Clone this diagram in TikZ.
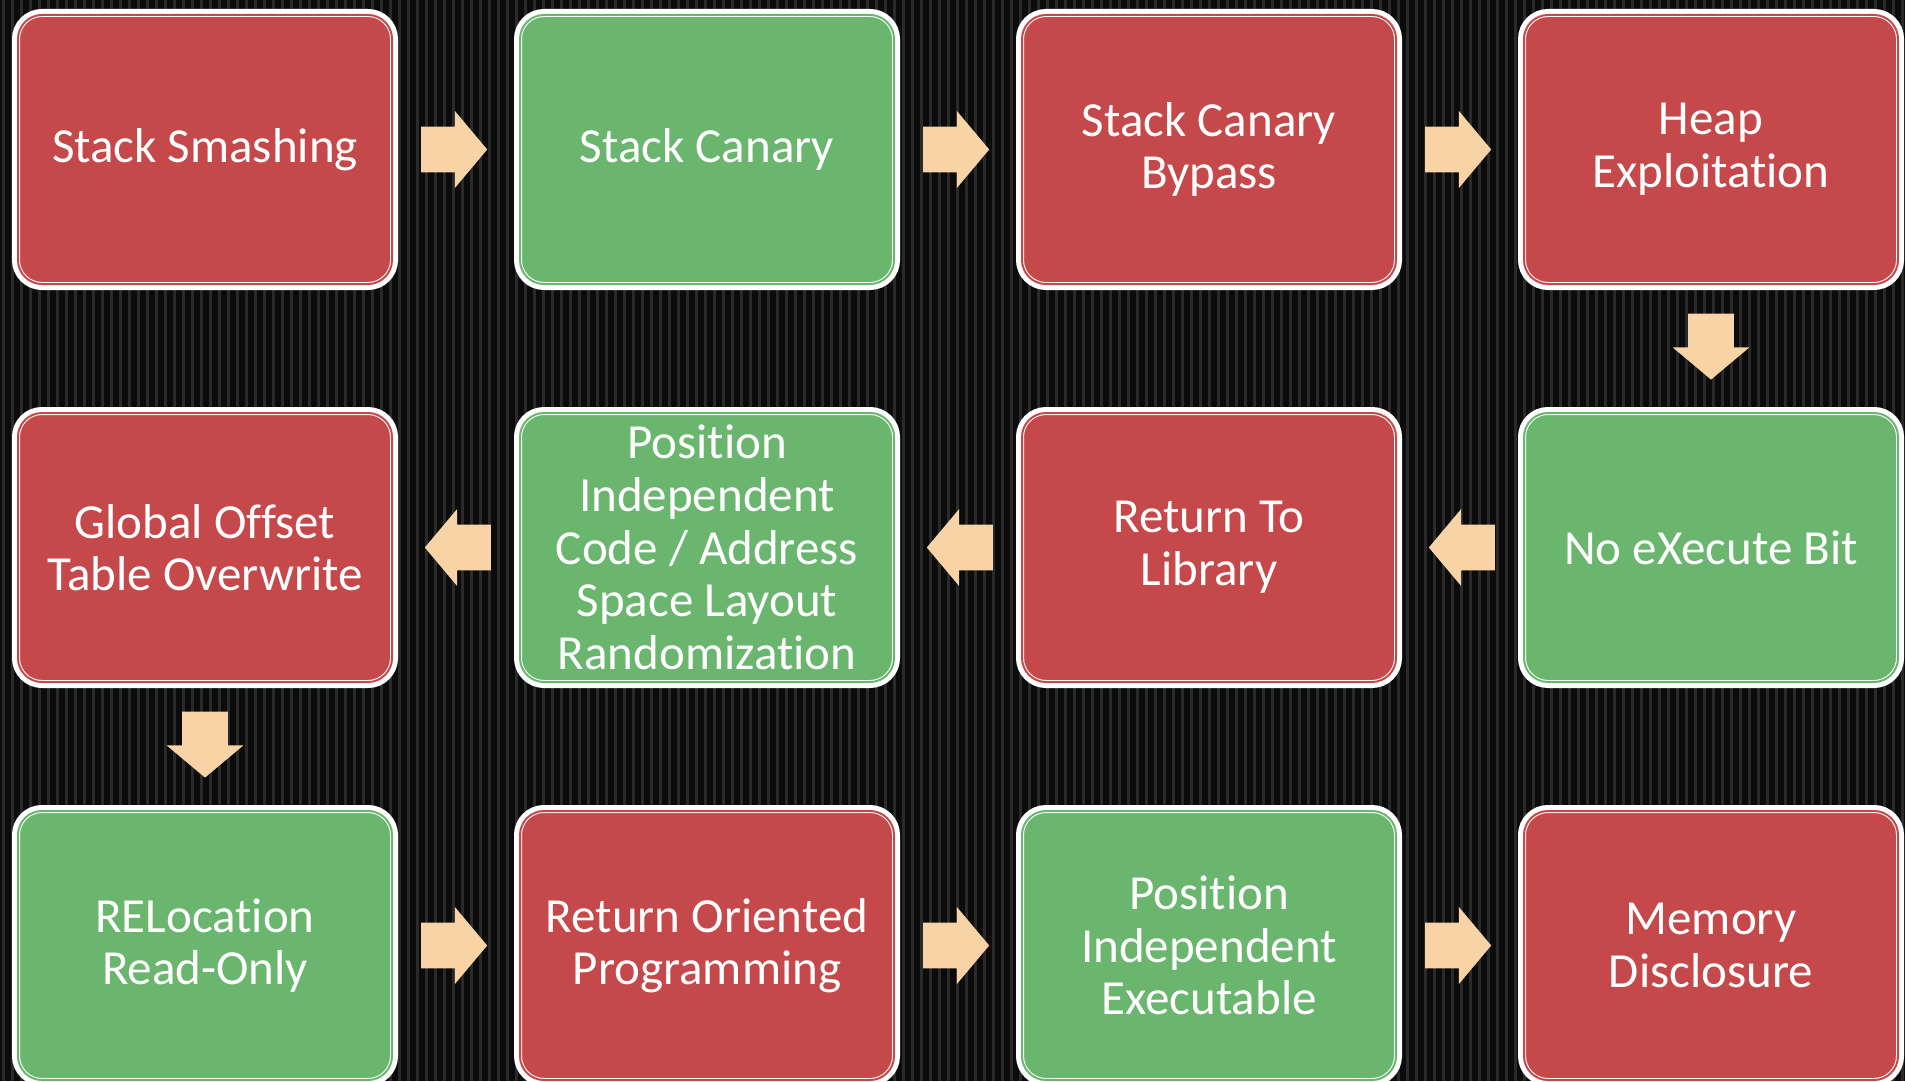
\documentclass[tikz,border=0pt]{standalone}
\usepackage{fontspec}
\setmainfont{Carlito}[Ligatures=NoCommon]
\usetikzlibrary{shapes.arrows}
\definecolor{boxred}{HTML}{C5494A}
\definecolor{boxgreen}{HTML}{6BB66F}
\definecolor{peach}{HTML}{F8D3A6}
\definecolor{bgdark}{HTML}{0B0B0B}
\definecolor{stripe}{HTML}{2A2A2A}

\begin{document}
\begin{tikzpicture}[node distance=251pt,
  every node/.style={font=\fontsize{24.5}{26.3}\selectfont,text=white},
  stage/.style={rectangle,rounded corners=12pt,align=center,inner sep=0pt,
    minimum width=187pt,minimum height=134.5pt,
    preaction={draw=white,line width=6pt},
    draw=white,line width=0.5pt,double distance=1pt},
  bad/.style={stage,fill=boxred,double=boxred},
  good/.style={stage,fill=boxgreen,double=boxgreen},
  flow/.style={single arrow,fill=peach,draw=none,inner xsep=0pt,inner ysep=11.25pt,
    minimum height=33pt,
    single arrow head extend=7.75pt,single arrow tip angle=100,
    pos=0.41,sloped,allow upside down}]
\clip (0,0) rectangle (952.5pt,-540.5pt);
\fill[bgdark] (0,0) rectangle (952.5pt,-540.5pt);
\foreach \x in {0,...,211}
  \fill[stripe] (\x*4.5pt+1pt,0) rectangle ++(1.4pt,-540.5pt);
% first row
\node[bad] (ss) at (102.5pt,-74.75pt) {Stack Smashing};
\node[good] (sc) [right of=ss] {Stack Canary};
\node[bad] (scb) [right of=sc] {Stack Canary\\Bypass};
\node[bad] (hx) [right of=scb] {Heap\\Exploitation};
% second row
\node[good,node distance=199pt] (nx) [below of=hx] {No eXecute Bit};
\node[bad] (rl) [left of=nx] {Return To\\Library};
\node[good] (pic) [left of=rl] {Position\\Independent\\Code / Address\\Space Layout\\Randomization};
\node[bad] (got) [left of=pic] {Global Offset\\Table Overwrite};
% third row
\node[good,node distance=199pt] (relro) [below of=got] {RELocation\\Read-Only};
\node[bad] (rop) [right of=relro] {Return Oriented\\Programming};
\node[good] (pie) [right of=rop] {Position\\Independent\\Executable};
\node[bad] (md) [right of=pie] {Memory\\Disclosure};
\path (ss) -- node[flow] {} (sc)
      (sc) -- node[flow] {} (scb)
      (scb) -- node[flow] {} (hx)
      (hx) -- node[flow] {} (nx)
      (nx) -- node[flow] {} (rl)
      (rl) -- node[flow] {} (pic)
      (pic) -- node[flow] {} (got)
      (got) -- node[flow] {} (relro)
      (relro) -- node[flow] {} (rop)
      (rop) -- node[flow] {} (pie)
      (pie) -- node[flow] {} (md);
\end{tikzpicture}
\end{document}
